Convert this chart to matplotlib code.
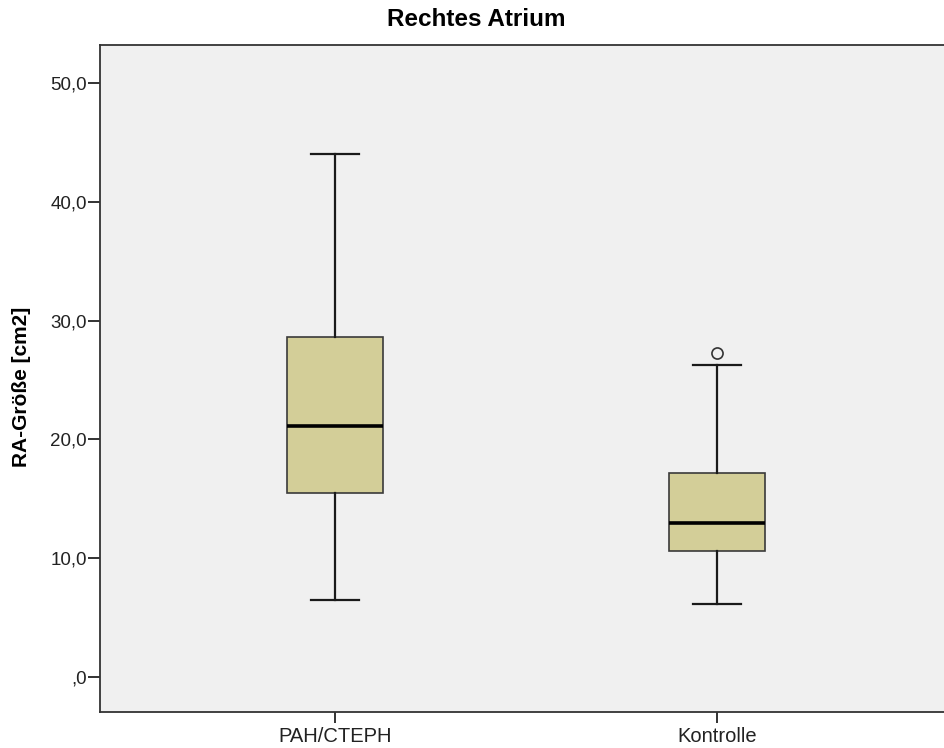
import numpy as np
from matplotlib import pyplot as plt

# values
groups = ['PAH/CTEPH', 'Kontrolle']
whislo = [6.5, 6.1]
q1 = [15.5, 10.6]
med = [21.1, 13.0]
q3 = [28.6, 17.2]
whishi = [44.0, 26.3]
fliers = [[], [27.3]]

yticks = [0, 10, 20, 30, 40, 50]
ytick_labels = [',0', '10,0', '20,0', '30,0', '40,0', '50,0']

plt.rcParams['font.family'] = ['Liberation Sans', 'DejaVu Sans']

fig = plt.figure(figsize=(9.44, 7.48), dpi=100)
ax = fig.add_axes([100/944, 1-712/748, 1-100/944, (712-45)/748])
ax.set_facecolor('#f0f0f0')

stats = []
for i in range(len(groups)):
    stats.append(dict(label=groups[i], whislo=whislo[i], q1=q1[i], med=med[i],
                      q3=q3[i], whishi=whishi[i], fliers=fliers[i]))

ax.bxp(stats, positions=[1, 2], widths=0.251, patch_artist=True,
       boxprops=dict(facecolor='#d3ce98', edgecolor='#3a3a3a', linewidth=1.2),
       medianprops=dict(color='black', linewidth=2.6),
       whiskerprops=dict(color='#1a1a1a', linewidth=1.6),
       capprops=dict(color='#1a1a1a', linewidth=1.6),
       capwidths=0.127,
       flierprops=dict(marker='o', markersize=8, markerfacecolor='none',
                       markeredgecolor='#333333', markeredgewidth=1.2))

ax.set_xlim(1-235/382, 2+227/382)
ax.set_ylim(-2.95, 53.2)
ax.set_yticks(yticks)
ax.set_yticklabels(ytick_labels)
ax.set_xticks([1, 2])
ax.set_xticklabels(groups)

ax.tick_params(axis='y', length=8.5, width=1.3, pad=1, labelsize=13.5, colors='#222222')
ax.tick_params(axis='x', length=8, width=1.3, pad=3, labelsize=14.5, colors='#222222')
for s in ['left', 'top', 'bottom']:
    ax.spines[s].set_linewidth(1.3)
    ax.spines[s].set_color('#333333')
ax.spines['right'].set_visible(False)

fig.text(476/944, 1-19/748, 'Rechtes Atrium', ha='center', va='center',
         fontsize=17.5, fontweight='bold')
fig.text(22/944, 1-387/748, 'RA-Größe [cm2]', ha='center', va='center',
         rotation=90, fontsize=15, fontweight='bold')

plt.savefig('out.png', dpi=100)
